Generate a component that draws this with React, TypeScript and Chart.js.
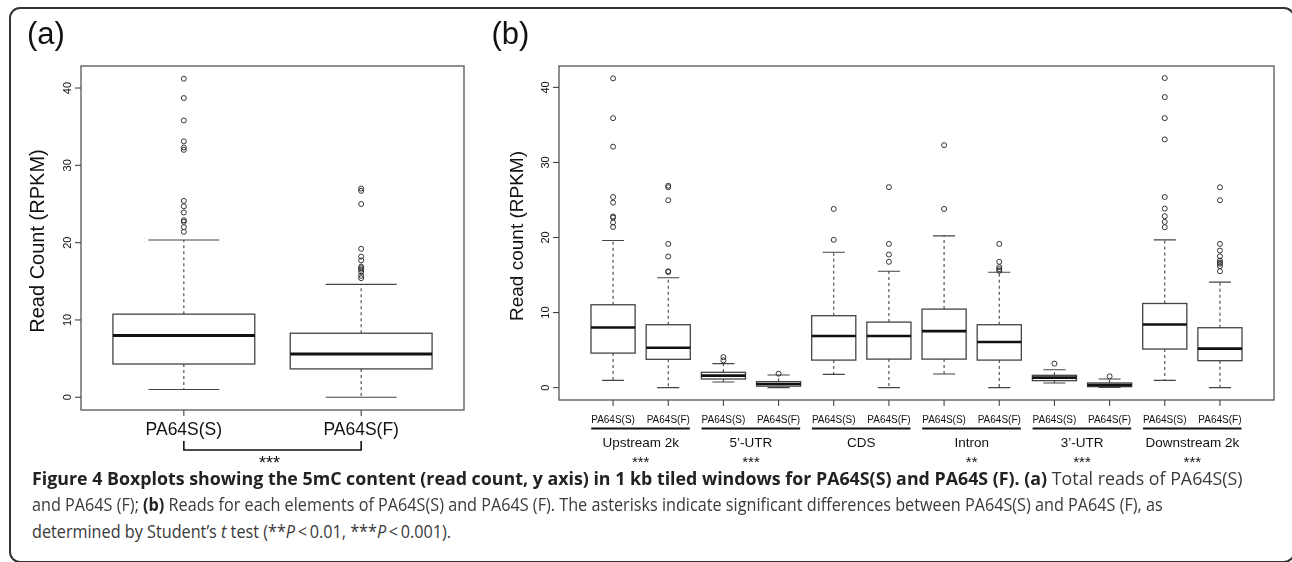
import React, { useEffect, useRef } from 'react';
import { Chart, registerables } from 'chart.js';

Chart.register(...registerables);

// ---------- Panel (a): total reads ----------
const totalCategories = ['PA64S(S)', 'PA64S(F)'];
const totalLower = [1.0, 0.0];
const totalQ1 = [4.3, 3.67];
const totalMedian = [8.0, 5.6];
const totalQ3 = [10.75, 8.28];
const totalUpper = [20.35, 14.6];
const totalOutliers = [
  [41.2, 38.7, 35.8, 33.1, 32.3, 32.0, 25.4, 24.7, 23.9, 22.9, 22.7, 22.0, 21.4],
  [27.0, 26.7, 25.0, 19.2, 18.2, 17.7, 16.9, 16.7, 16.5, 16.2, 15.7, 15.4],
];
const totalSignificance = '***';

// ---------- Panel (b): reads per element ----------
const elementGroups = ['Upstream 2k', '5\u2019-UTR', 'CDS', 'Intron', '3\u2019-UTR', 'Downstream 2k'];
const elementSignificance = ['***', '***', '', '**', '***', '***'];
const sampleLabels = ['PA64S(S)', 'PA64S(F)'];
const elementLower = [0.97, 0.0, 0.75, 0.0, 1.77, 0.0, 1.81, 0.0, 0.62, 0.03, 0.97, 0.0];
const elementQ1 = [4.6, 3.77, 1.15, 0.2, 3.67, 3.8, 3.8, 3.67, 0.93, 0.13, 5.14, 3.59];
const elementMedian = [8.02, 5.32, 1.6, 0.48, 6.87, 6.87, 7.53, 6.07, 1.33, 0.35, 8.42, 5.19];
const elementQ3 = [11.04, 8.38, 2.04, 0.8, 9.58, 8.73, 10.46, 8.38, 1.64, 0.62, 11.21, 7.98];
const elementUpper = [19.6, 14.63, 3.2, 1.68, 18.04, 15.5, 20.22, 15.38, 2.39, 1.15, 19.69, 14.05];
const elementOutliers = [
  [41.2, 35.9, 32.1, 25.4, 24.65, 22.8, 22.65, 22.0, 21.4],
  [26.9, 26.7, 24.96, 19.15, 17.47, 15.5, 15.4],
  [4.07, 3.63],
  [1.86],
  [23.8, 19.69],
  [26.7, 19.15, 17.73, 16.76],
  [32.3, 23.8],
  [19.15, 16.76, 16.05, 15.78, 15.56],
  [3.19],
  [1.5],
  [41.24, 38.7, 35.9, 33.07, 25.4, 23.85, 22.83, 22.08, 21.37],
  [26.69, 24.96, 19.15, 18.26, 17.5, 16.93, 16.67, 16.5, 16.18, 15.5],
];

const yTicks = [0, 10, 20, 30, 40];
const yMin = -1.648;
const yMax = 42.848;

const FONT = "'Liberation Sans', Arial, Helvetica, sans-serif";
const INK = '#111';
const LINE = '#444';

type Stats = {
  lower: number[];
  q1: number[];
  median: number[];
  q3: number[];
  upper: number[];
};

function makeBoxPlugin(stats: Stats, medianWidth: number) {
  return {
    id: 'boxes',
    beforeDatasetsDraw(chart: any) {
      const { ctx } = chart;
      const x = chart.scales.x;
      const y = chart.scales.y;
      ctx.save();
      for (let i = 0; i < stats.median.length; i++) {
        const c = x.getPixelForValue(i + 1);
        const half = x.getPixelForValue(i + 1 + 0.4) - c;
        const cap = x.getPixelForValue(i + 1 + 0.2) - c;
        const yl = y.getPixelForValue(stats.lower[i]);
        const y1 = y.getPixelForValue(stats.q1[i]);
        const ym = y.getPixelForValue(stats.median[i]);
        const y3 = y.getPixelForValue(stats.q3[i]);
        const yu = y.getPixelForValue(stats.upper[i]);
        ctx.strokeStyle = LINE;
        ctx.lineWidth = 1.1;
        ctx.setLineDash([3, 3]);
        ctx.beginPath();
        ctx.moveTo(c, y3);
        ctx.lineTo(c, yu);
        ctx.moveTo(c, y1);
        ctx.lineTo(c, yl);
        ctx.stroke();
        ctx.setLineDash([]);
        ctx.beginPath();
        ctx.moveTo(c - cap, yu);
        ctx.lineTo(c + cap, yu);
        ctx.moveTo(c - cap, yl);
        ctx.lineTo(c + cap, yl);
        ctx.stroke();
        ctx.fillStyle = '#fff';
        ctx.fillRect(c - half, y3, 2 * half, y1 - y3);
        ctx.lineWidth = 1.3;
        ctx.strokeRect(c - half, y3, 2 * half, y1 - y3);
        ctx.strokeStyle = INK;
        ctx.lineWidth = medianWidth;
        ctx.beginPath();
        ctx.moveTo(c - half, ym);
        ctx.lineTo(c + half, ym);
        ctx.stroke();
      }
      ctx.restore();
    },
  };
}

function drawFrameAndYAxis(chart: any, title: string, titleSize: number, titleX: number, titleY: number) {
  const { ctx, chartArea } = chart;
  const y = chart.scales.y;
  ctx.save();
  ctx.strokeStyle = '#555';
  ctx.lineWidth = 1.3;
  ctx.strokeRect(chartArea.left, chartArea.top, chartArea.right - chartArea.left, chartArea.bottom - chartArea.top);
  ctx.strokeStyle = LINE;
  ctx.lineWidth = 1.1;
  ctx.fillStyle = INK;
  ctx.font = `11px ${FONT}`;
  ctx.textAlign = 'center';
  ctx.textBaseline = 'middle';
  for (const v of yTicks) {
    const py = y.getPixelForValue(v);
    ctx.beginPath();
    ctx.moveTo(chartArea.left, py);
    ctx.lineTo(chartArea.left - 6, py);
    ctx.stroke();
    ctx.save();
    ctx.translate(chartArea.left - 13.5, py);
    ctx.rotate(-Math.PI / 2);
    ctx.fillText(String(v), 0, 0);
    ctx.restore();
  }
  ctx.save();
  ctx.font = `${titleSize}px ${FONT}`;
  ctx.translate(titleX, titleY);
  ctx.rotate(-Math.PI / 2);
  ctx.fillText(title, 0, 0);
  ctx.restore();
  ctx.restore();
}

function drawStars(ctx: CanvasRenderingContext2D, text: string, cx: number, cy: number, size: number) {
  ctx.save();
  ctx.font = `${size}px ${FONT}`;
  ctx.textAlign = 'center';
  ctx.textBaseline = 'alphabetic';
  ctx.fillStyle = INK;
  ctx.fillText(text, cx, cy + 0.57 * size);
  ctx.restore();
}

function drawPanelLabel(ctx: CanvasRenderingContext2D, text: string, x: number) {
  ctx.save();
  ctx.font = `31px ${FONT}`;
  ctx.fillStyle = INK;
  ctx.textAlign = 'left';
  ctx.textBaseline = 'alphabetic';
  ctx.fillText(text, x, 43.5);
  ctx.restore();
}

const panelAPlugin = {
  id: 'panelA',
  afterDraw(chart: any) {
    const { ctx, chartArea } = chart;
    const x = chart.scales.x;
    drawFrameAndYAxis(chart, 'Read Count (RPKM)', 20, 38.5, 241);
    drawPanelLabel(ctx, '(a)', 27);
    ctx.save();
    ctx.strokeStyle = LINE;
    ctx.lineWidth = 1.1;
    ctx.fillStyle = INK;
    ctx.font = `17.5px ${FONT}`;
    ctx.textAlign = 'center';
    ctx.textBaseline = 'middle';
    const centers = totalCategories.map((_, i) => x.getPixelForValue(i + 1));
    centers.forEach((c, i) => {
      ctx.beginPath();
      ctx.moveTo(c, chartArea.bottom);
      ctx.lineTo(c, chartArea.bottom + 6);
      ctx.stroke();
      ctx.fillText(totalCategories[i], c, 430.5);
    });
    ctx.strokeStyle = INK;
    ctx.lineWidth = 1.6;
    ctx.beginPath();
    ctx.moveTo(centers[0], 441);
    ctx.lineTo(centers[0], 450);
    ctx.lineTo(centers[1], 450);
    ctx.lineTo(centers[1], 441);
    ctx.stroke();
    ctx.restore();
    drawStars(ctx, totalSignificance, (centers[0] + centers[1]) / 2 - 3, 459, 18);
  },
};

const panelBPlugin = {
  id: 'panelB',
  afterDraw(chart: any) {
    const { ctx, chartArea } = chart;
    const x = chart.scales.x;
    drawFrameAndYAxis(chart, 'Read count (RPKM)', 19, 38, 236);
    drawPanelLabel(ctx, '(b)', 11.5);
    ctx.save();
    ctx.strokeStyle = LINE;
    ctx.lineWidth = 1.1;
    for (let i = 0; i < elementMedian.length; i++) {
      const c = x.getPixelForValue(i + 1);
      ctx.beginPath();
      ctx.moveTo(c, chartArea.bottom);
      ctx.lineTo(c, chartArea.bottom + 6);
      ctx.stroke();
    }
    ctx.fillStyle = INK;
    ctx.textAlign = 'center';
    ctx.textBaseline = 'middle';
    elementGroups.forEach((g, gi) => {
      const c1 = x.getPixelForValue(gi * 2 + 1);
      const c2 = x.getPixelForValue(gi * 2 + 2);
      ctx.font = `10px ${FONT}`;
      ctx.fillStyle = INK;
      ctx.fillText(sampleLabels[0], c1, 420);
      ctx.fillText(sampleLabels[1], c2, 420);
      const w1 = ctx.measureText(sampleLabels[0]).width;
      const w2 = ctx.measureText(sampleLabels[1]).width;
      ctx.strokeStyle = INK;
      ctx.lineWidth = 2;
      ctx.beginPath();
      ctx.moveTo(c1 - w1 / 2, 428.5);
      ctx.lineTo(c2 + w2 / 2, 428.5);
      ctx.stroke();
      ctx.font = `13.5px ${FONT}`;
      ctx.fillText(g, (c1 + c2) / 2, 443);
      if (elementSignificance[gi]) {
        drawStars(ctx, elementSignificance[gi], (c1 + c2) / 2, 458, 15);
      }
    });
    ctx.restore();
  },
};

function outlierDataset(outliers: number[][]) {
  const data: { x: number; y: number }[] = [];
  outliers.forEach((arr, i) => arr.forEach((v) => data.push({ x: i + 1, y: v })));
  return {
    data,
    pointRadius: 2.5,
    pointHoverRadius: 2.5,
    pointBorderWidth: 1,
    pointBorderColor: '#333',
    pointBackgroundColor: 'rgba(0,0,0,0)',
    showLine: false,
  };
}

function useBoxChart(
  ref: React.RefObject<HTMLCanvasElement>,
  stats: Stats,
  outliers: number[][],
  xMin: number,
  xMax: number,
  padding: any,
  medianWidth: number,
  plugin: any
) {
  useEffect(() => {
    if (!ref.current) return;
    const chart = new Chart(ref.current, {
      type: 'scatter',
      data: { datasets: [outlierDataset(outliers) as any] },
      options: {
        animation: false,
        responsive: false,
        devicePixelRatio: 1,
        layout: { padding },
        plugins: { legend: { display: false }, tooltip: { enabled: false } },
        events: [],
        scales: {
          x: { type: 'linear', min: xMin, max: xMax, display: false },
          y: { type: 'linear', min: yMin, max: yMax, display: false },
        },
      },
      plugins: [makeBoxPlugin(stats, medianWidth), plugin],
    });
    return () => chart.destroy();
  }, []);
}

const captionLines: { text: string; style?: 'b' | 'i' }[][] = [
  [
    { text: 'Figure 4 Boxplots showing the 5mC content (read count, y axis) in 1 kb tiled windows for PA64S(S) and PA64S (F). (a)', style: 'b' },
    { text: ' Total reads of PA64S(S)' },
  ],
  [
    { text: 'and PA64S (F); ' },
    { text: '(b)', style: 'b' },
    { text: ' Reads for each elements of PA64S(S) and PA64S (F). The asterisks indicate significant differences between PA64S(S) and PA64S (F), as' },
  ],
  [
    { text: 'determined by Student\u2019s ' },
    { text: 't', style: 'i' },
    { text: ' test (**' },
    { text: 'P', style: 'i' },
    { text: '\u2009<\u20090.01, ***' },
    { text: 'P', style: 'i' },
    { text: '\u2009<\u20090.001).' },
  ],
];
const captionBaselines = [484.5, 511, 537.5];
const captionLine1Width = 1211;
const captionLine2Width = 1131;

export default function App() {
  const refA = useRef<HTMLCanvasElement>(null);
  const refB = useRef<HTMLCanvasElement>(null);
  const lineRefs = useRef<(HTMLDivElement | null)[]>([]);

  useBoxChart(
    refA,
    { lower: totalLower, q1: totalQ1, median: totalMedian, q3: totalQ3, upper: totalUpper },
    totalOutliers,
    0.42,
    2.58,
    { left: 81, top: 66, right: 16, bottom: 60 },
    3,
    panelAPlugin
  );
  useBoxChart(
    refB,
    { lower: elementLower, q1: elementQ1, median: elementMedian, q3: elementQ3, upper: elementUpper },
    elementOutliers,
    0.02,
    12.98,
    { left: 79, top: 66, right: 18, bottom: 70 },
    2.6,
    panelBPlugin
  );

  useEffect(() => {
    const fit = () => {
      const [l1, l2, l3] = lineRefs.current;
      if (!l1 || !l2 || !l3) return;
      l1.style.transform = 'none';
      l2.style.transform = 'none';
      l3.style.transform = 'none';
      const w1 = l1.scrollWidth;
      const w2 = l2.scrollWidth;
      if (!w1 || !w2) return;
      const s1 = captionLine1Width / w1;
      const s2 = captionLine2Width / w2;
      l1.style.transform = `scaleX(${s1})`;
      l2.style.transform = `scaleX(${s2})`;
      l3.style.transform = `scaleX(${s2})`;
    };
    fit();
    if ((document as any).fonts && (document as any).fonts.ready) {
      (document as any).fonts.ready.then(fit);
    }
  }, []);

  return (
    <div style={{ position: 'absolute', left: 0, top: 0, width: 1292, height: 562, background: '#fff', overflow: 'hidden' }}>
      <div
        style={{
          position: 'absolute',
          left: 9,
          top: 7,
          width: 1286,
          height: 556,
          boxSizing: 'border-box',
          border: '2px solid #333',
          borderRadius: 11,
        }}
      />
      <canvas ref={refA} width={480} height={470} style={{ position: 'absolute', left: 0, top: 0, width: 480, height: 470 }} />
      <canvas ref={refB} width={812} height={470} style={{ position: 'absolute', left: 480, top: 0, width: 812, height: 470 }} />
      {captionLines.map((parts, li) => (
        <div
          key={li}
          ref={(el) => {
            lineRefs.current[li] = el;
          }}
          style={{
            position: 'absolute',
            left: 32,
            top: captionBaselines[li] - 16,
            whiteSpace: 'nowrap',
            fontFamily: "'Open Sans', 'Noto Sans', sans-serif",
            fontSize: 18,
            lineHeight: '18px',
            color: '#3a3a3a',
            transformOrigin: '0 0',
            display: 'inline-block',
          }}
        >
          {parts.map((p, pi) => (
            <span
              key={pi}
              style={{
                fontWeight: p.style === 'b' ? 700 : 400,
                fontStyle: p.style === 'i' ? 'italic' : 'normal',
                color: p.style === 'b' ? '#222' : '#3a3a3a',
              }}
            >
              {p.text}
            </span>
          ))}
        </div>
      ))}
    </div>
  );
}
